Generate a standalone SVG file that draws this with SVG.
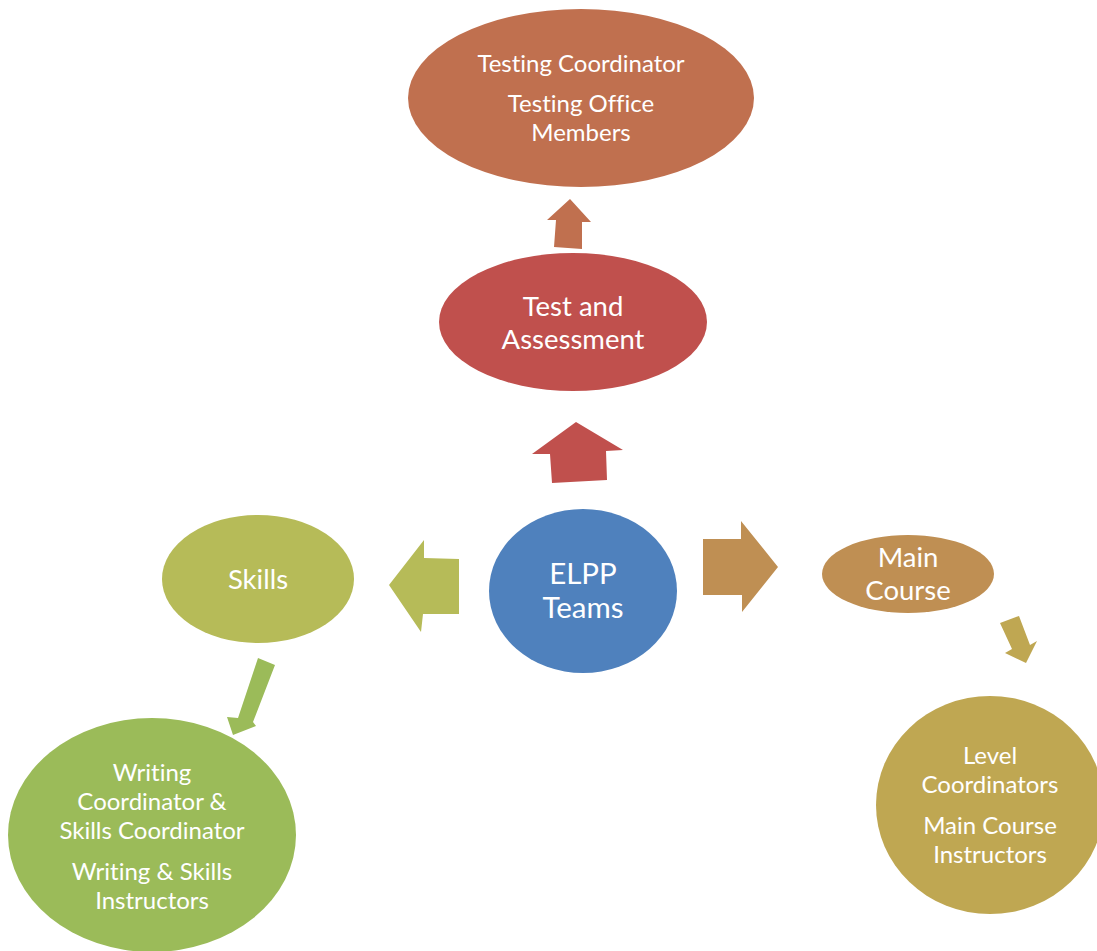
<svg xmlns="http://www.w3.org/2000/svg" width="1097" height="951" viewBox="0 0 1097 951">
  <style>
    .lbl { font-family: Lato, "Open Sans", "Liberation Sans", sans-serif; fill: #ffffff; text-anchor: middle; font-variant-ligatures: none; }
    .s22 { font-size: 24px; }
    .s25 { font-size: 27.5px; }
  </style>
  <rect width="1097" height="951" fill="#ffffff"/>

  <!-- block arrows between the teams -->
  <g id="connectors">
    <polygon fill="#C0704F" points="570,199 591,222 582,222 582,249 554,247 556,220 547,220"/>
    <polygon fill="#C0504D" points="576,422 623,450 606,451 607,480 552,483 550,454 532,454"/>
    <polygon fill="#B6BB58" points="389,585 424,540 424,558 459,559 459,614 423,614 421,632"/>
    <polygon fill="#BF8F53" points="703,539 741,539 741,521 778,567 742,612 742,595 703,595"/>
    <polygon fill="#BFA752" points="1000,623 1019,616 1030,645 1037,641 1026,663 1005,653 1012,649"/>
    <polygon fill="#9BBB59" points="258,658 275,665 253,722 256,726 233,735 227,717 238,718"/>
  </g>

  <g id="testing-office">
    <ellipse cx="581" cy="98" rx="173" ry="89" fill="#C0704F"/>
    <text class="lbl s22" x="581" y="72">Testing Coordinator</text>
    <text class="lbl s22" x="581" y="112">Testing Office</text>
    <text class="lbl s22" x="581" y="141">Members</text>
  </g>

  <g id="test-assessment">
    <ellipse cx="573" cy="322" rx="134" ry="69" fill="#C0504D"/>
    <text class="lbl s25" x="573" y="316">Test and</text>
    <text class="lbl s25" x="573" y="349">Assessment</text>
  </g>

  <g id="elpp-teams">
    <ellipse cx="583" cy="591" rx="94" ry="82" fill="#4F81BD"/>
    <text class="lbl" font-size="29.5" x="583" y="584">ELPP</text>
    <text class="lbl" font-size="29.5" x="583" y="618">Teams</text>
  </g>

  <g id="skills">
    <ellipse cx="258" cy="579" rx="96" ry="64" fill="#B6BB58"/>
    <text class="lbl s25" x="258" y="589">Skills</text>
  </g>

  <g id="main-course">
    <ellipse cx="908" cy="574" rx="86" ry="39" fill="#BF8F53"/>
    <text class="lbl s25" x="908" y="567">Main</text>
    <text class="lbl s25" x="908" y="600">Course</text>
  </g>

  <g id="writing-skills">
    <ellipse cx="152" cy="835" rx="144" ry="117" fill="#9BBB59"/>
    <text class="lbl s22" x="152" y="781">Writing</text>
    <text class="lbl s22" x="152" y="810">Coordinator &amp;</text>
    <text class="lbl s22" x="152" y="839">Skills Coordinator</text>
    <text class="lbl s22" x="152" y="880">Writing &amp; Skills</text>
    <text class="lbl s22" x="152" y="909">Instructors</text>
  </g>

  <g id="level-coordinators">
    <ellipse cx="990" cy="805" rx="114" ry="109" fill="#BFA752"/>
    <text class="lbl s22" x="990" y="764">Level</text>
    <text class="lbl s22" x="990" y="793">Coordinators</text>
    <text class="lbl s22" x="990" y="834">Main Course</text>
    <text class="lbl s22" x="990" y="863">Instructors</text>
  </g>
</svg>
